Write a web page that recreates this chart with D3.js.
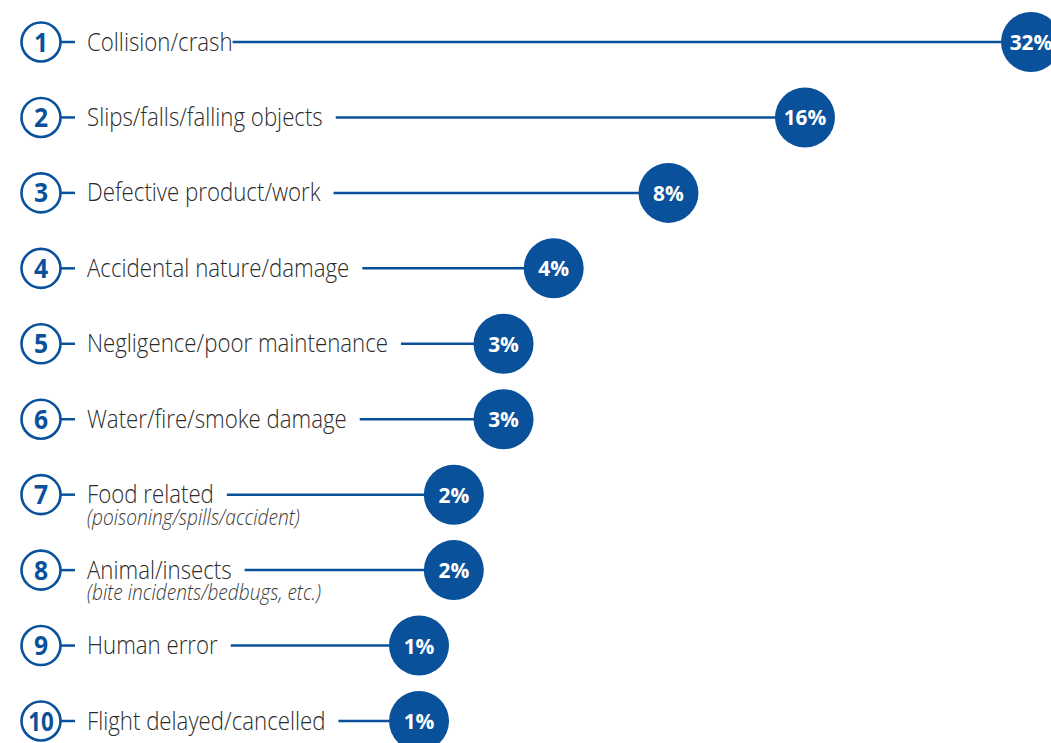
<!DOCTYPE html>
<html><head><meta charset="utf-8">
<script src="https://cdn.jsdelivr.net/npm/d3@7"></script>
<style>body{margin:0;background:#fff;overflow:hidden}</style>
</head><body>
<svg id="chart" width="1051" height="743"></svg>
<script>
const ranks = [1,2,3,4,5,6,7,8,9,10];
const categories = ["Collision/crash","Slips/falls/falling objects","Defective product/work","Accidental nature/damage","Negligence/poor maintenance","Water/fire/smoke damage","Food related","Animal/insects","Human error","Flight delayed/cancelled"];
const subtitles = ["","","","","","","(poisoning/spills/accident)","(bite incidents/bedbugs, etc.)","",""];
const values = [32,15.5,8.4,4.1,2.7,2.7,1.6,1.6,1.0,1.0];
const valueLabels = ["32%","16%","8%","4%","3%","3%","2%","2%","1%","1%"];

const svg = d3.select("#chart");
const blue = "#0a519b";
const font = "Open Sans";
const sx = 0.89;
const y = d3.scalePoint().domain(ranks).range([42, 721]);
const x = d3.scaleSqrt().domain([0, 32]).range([287.6, 1031]);

const row = svg.selectAll("g.row").data(ranks).join("g").attr("class","row")
  .attr("transform", d => `translate(0,${y(d)})`);

row.each(function(d,i){
  const g = d3.select(this);
  // rank badge
  g.append("line").attr("x1",60).attr("x2",75).attr("y1",0).attr("y2",0).attr("stroke",blue).attr("stroke-width",2.5);
  g.append("circle").attr("cx",41).attr("cy",0).attr("r",19.5).attr("fill","#fff").attr("stroke",blue).attr("stroke-width",2.6);
  g.append("text").attr("transform",`translate(41,9.5) scale(${d===10?0.86:0.95},1)`).attr("text-anchor","middle").attr("fill",blue)
    .style("font-family",font).style("font-weight",700).style("font-size","26px").text(d);
  // label
  const lab = g.append("text").attr("transform",`translate(87,8.5) scale(${sx},1)`).attr("fill","#2b2b2b")
    .style("font-family",font).style("font-weight",300).style("font-size","25px").text(categories[i]);
  if (subtitles[i]) {
    g.append("text").attr("transform",`translate(87,30) scale(${sx},1)`).attr("fill","#3a3a3a")
      .style("font-family",font).style("font-style","italic").style("font-weight",300).style("font-size","21.5px").text(subtitles[i]);
  }
  const w = lab.node().getComputedTextLength()*sx;
  const cx = x(values[i]);
  g.append("line").attr("x1",87+w+(i===0?0:13)).attr("x2",cx).attr("y1",0).attr("y2",0).attr("stroke",blue).attr("stroke-width",2.5);
  g.append("circle").attr("cx",cx).attr("cy",0).attr("r",30).attr("fill",blue);
  g.append("text").attr("transform",`translate(${cx},8) scale(0.95,1)`).attr("text-anchor","middle").attr("fill","#fff")
   .style("font-family",font).style("font-weight",700).style("font-size","22px").text(valueLabels[i]);
});
</script>
</body></html>
